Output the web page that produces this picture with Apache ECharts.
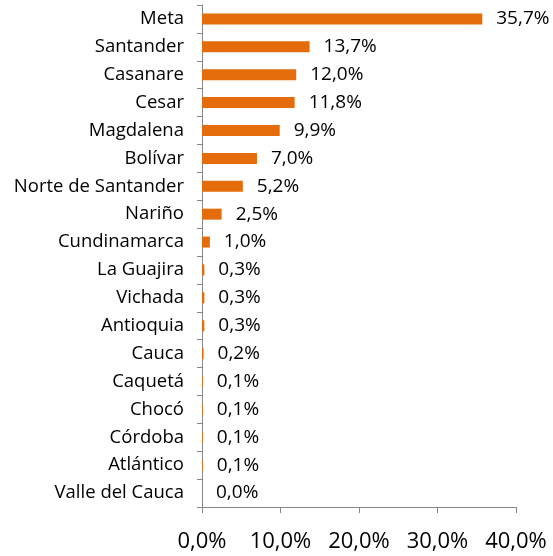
<!DOCTYPE html>
<html>
<head>
<meta charset="utf-8">
<script src="https://cdn.jsdelivr.net/npm/echarts@6/dist/echarts.min.js"></script>
<style>
  html, body { margin: 0; padding: 0; background: #fff; }
  #chart { width: 553px; height: 556px; }
</style>
</head>
<body>
<div id="chart"></div>
<script>
// departamentos, de mayor a menor
const departamentos = [
  'Meta', 'Santander', 'Casanare', 'Cesar', 'Magdalena', 'Bolívar',
  'Norte de Santander', 'Nariño', 'Cundinamarca', 'La Guajira', 'Vichada',
  'Antioquia', 'Cauca', 'Caquetá', 'Chocó', 'Córdoba', 'Atlántico', 'Valle del Cauca'
]
const participacion = [
  35.7, 13.7, 12.0, 11.8, 9.9, 7.0,
  5.2, 2.5, 1.0, 0.3, 0.3,
  0.3, 0.2, 0.1, 0.1, 0.1, 0.1, 0.0
]
const ejeX = { min: 0, max: 40, interval: 10 }

const pct = v => v.toFixed(1).replace('.', ',') + '%'
const fontFamily = 'Open Sans'

const chart = echarts.init(document.getElementById('chart'))
chart.setOption({
  animation: false,
  textStyle: { fontFamily: fontFamily },
  grid: { left: 202, right: 37, top: 5, bottom: 49, containLabel: false },
  xAxis: {
    type: 'value',
    min: ejeX.min,
    max: ejeX.max,
    interval: ejeX.interval,
    axisLine: { show: true, lineStyle: { color: '#868686', width: 1 } },
    axisTick: { show: true, length: 6, lineStyle: { color: '#868686' } },
    splitLine: { show: false },
    axisLabel: {
      color: '#000',
      fontSize: 22,
      margin: 24,
      fontFamily: fontFamily,
      formatter: v => pct(v)
    }
  },
  yAxis: {
    type: 'category',
    inverse: true,
    data: departamentos,
    axisLine: { show: true, lineStyle: { color: '#868686', width: 1 } },
    axisTick: { show: true, length: 5, lineStyle: { color: '#868686' } },
    axisLabel: { color: '#000', fontSize: 18.5, margin: 18, fontFamily: fontFamily }
  },
  series: [
    {
      type: 'bar',
      data: participacion,
      barWidth: 11,
      itemStyle: { color: '#E46C0A' },
      label: {
        show: true,
        position: 'right',
        distance: 14,
        color: '#000',
        fontSize: 19,
        fontFamily: fontFamily,
        formatter: p => pct(p.value)
      }
    }
  ]
})
</script>
</body>
</html>
